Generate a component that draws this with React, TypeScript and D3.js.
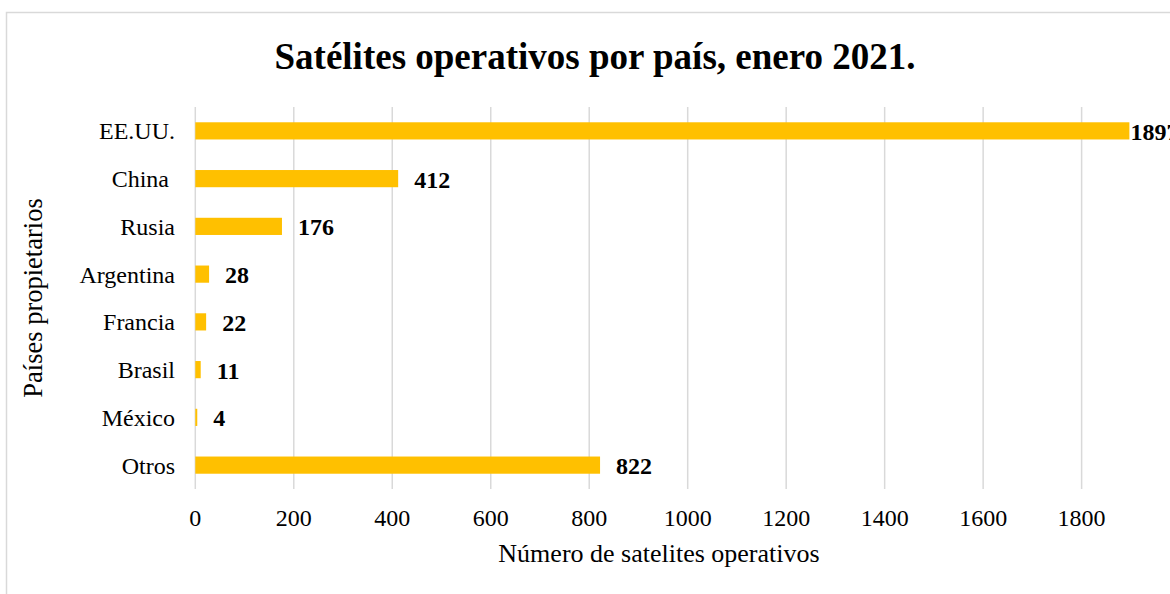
import React from "react";
import * as d3 from "d3";

const categories = ["EE.UU.", "China ", "Rusia", "Argentina", "Francia", "Brasil", "México", "Otros"];
const values = [1897, 412, 176, 28, 22, 11, 4, 822];
const xTicks = [0, 200, 400, 600, 800, 1000, 1200, 1400, 1600, 1800];

const W = 1170;
const H = 594;
const serif = "'Liberation Serif', 'Times New Roman', serif";

export default function App() {
  const x = d3.scaleLinear().domain([0, 2000]).range([195.3, 1180.1]);
  const y = d3.scaleBand<string>().domain(categories).range([107, 489]).padding(0);
  const barH = y.step() * 0.36;
  const plotTop = 107;
  const plotBottom = 489;

  return (
    <div style={{ position: "fixed", left: 0, top: 0 }}>
      <svg width={W} height={H} style={{ display: "block", background: "#fff" }}>
        <rect x={6.5} y={12.5} width={1300} height={800} fill="#fff" stroke="#d9d9d9" strokeWidth={1.5} />
        <text x={595} y={69} textAnchor="middle" fontFamily={serif} fontWeight="bold" fontSize={37} fill="#000">
          Satélites operativos por país, enero 2021.
        </text>
        {xTicks.map((t) => (
          <line key={"g" + t} x1={x(t)} x2={x(t)} y1={plotTop} y2={plotBottom} stroke="#d9d9d9" strokeWidth={1.5} />
        ))}
        {categories.map((c, i) => {
          const cy = (y(c) as number) + y.step() / 2;
          const v = values[i];
          const end = x(v);
          const lx = end + 16 + 50 > W ? end + 1 : end + 16;
          return (
            <g key={c}>
              <rect x={x(0)} y={cy - barH / 2} width={end - x(0)} height={barH} fill="#FFC000" />
              <text x={175} y={cy} dy="0.35em" textAnchor="end" fontFamily={serif} fontSize={24} fill="#000" style={{ whiteSpace: "pre" }}>
                {c}
              </text>
              <text x={lx} y={cy} dy="0.37em" fontFamily={serif} fontWeight="bold" fontSize={24} fill="#000">
                {v}
              </text>
            </g>
          );
        })}
        {xTicks.map((t) => (
          <text key={"t" + t} x={x(t)} y={518} dy="0.35em" textAnchor="middle" fontFamily={serif} fontSize={24} fill="#000">
            {t}
          </text>
        ))}
        <text x={659} y={553} dy="0.35em" textAnchor="middle" fontFamily={serif} fontSize={26} fill="#000">
          Número de satelites operativos
        </text>
        <text
          transform={`translate(33,298) rotate(-90)`}
          dy="0.35em"
          textAnchor="middle"
          fontFamily={serif}
          fontSize={26.5}
          fill="#000"
        >
          Países propietarios
        </text>
      </svg>
    </div>
  );
}
